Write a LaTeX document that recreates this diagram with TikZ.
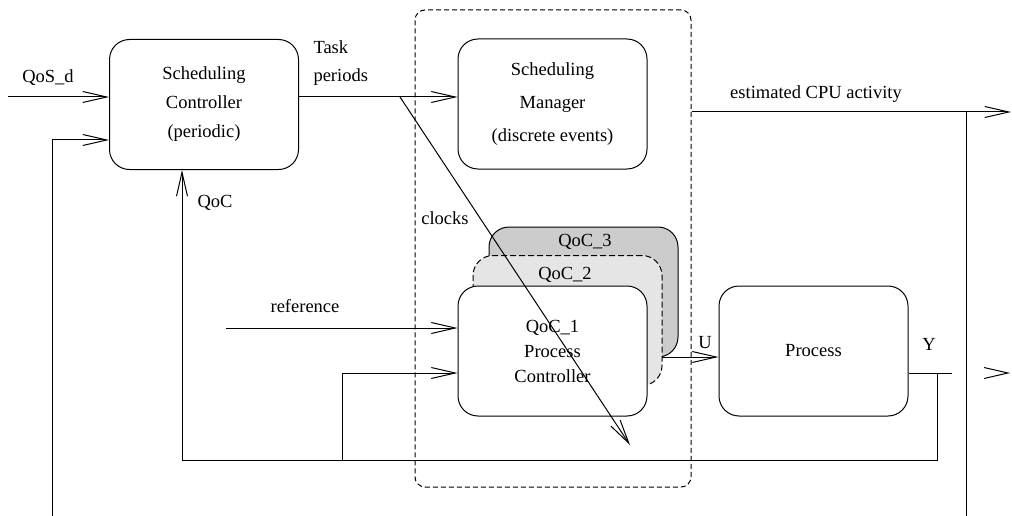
\documentclass[tikz,border=0pt]{standalone}
\usepackage{fontspec}
\setmainfont{Liberation Serif}
\usetikzlibrary{arrows.meta}

\begin{document}
\begin{tikzpicture}[x=1pt,y=-1pt,line width=1pt,font=\fontsize{18.5}{22}\selectfont,
  blk/.style={draw,rounded corners=20pt,minimum width=189pt,minimum height=130pt,inner sep=0pt,align=center},
  arr/.style={-{Straight Barb[length=24pt,width=11pt]}},
  lbl/.style={inner sep=0pt}]
        \useasboundingbox (0,0) rectangle (1012,516);
        \node[draw,dash pattern=on 5pt off 3pt,rounded corners=10pt,minimum width=276pt,minimum height=477pt] (cluster) at (553,248.5) {};
        \node[blk] (sctrl) at (204,104.5) {Scheduling\\[7pt]Controller\\[7pt](periodic)};
        \node[blk] (smgr) at (552.5,104) {Scheduling\\[11pt]Manager\\[11pt](discrete events)};
        \node[blk,fill=gray!40] (qoc3) at (583.5,292) {};
        \node[blk,fill=gray!20,dash pattern=on 6pt off 3pt] (qoc2) at (567.5,320.5) {};
        \node[blk,fill=white] (pctrl) at (552.5,351) {QoC\_1\\[3pt]Process\\[3pt]Controller};
        \node[blk] (proc) at (813.5,351) {Process};
        \node[lbl] (qoc3lbl) at (585,242) {QoC\_3};
        \node[lbl] (qoc2lbl) at (565,275) {QoC\_2};
        \node[lbl] (qoslbl) at (48,78) {QoS\_d};
        \node[lbl,align=left,anchor=west] (tasklbl) at (313,63) {Task\\[6pt]periods};
        \node[lbl] (qoclbl) at (215,203) {QoC};
        \node[lbl] (clklbl) at (445,218) {clocks};
        \node[lbl] (reflbl) at (305,306) {reference};
        \node[lbl] (cpulbl) at (816,94) {estimated CPU activity};
        \node[lbl] (ulbl) at (705,343) {U};
        \node[lbl] (ylbl) at (929,344) {Y};
        \coordinate (qosin) at (8,97);
        \coordinate (split) at (400,97);
        \coordinate (clk) at (630,445);
        \coordinate (cpuin) at (52,140);
        \coordinate (cpubot) at (52,516);
        \coordinate (cpuend) at (1011,112);
        \coordinate (cputap) at (966,112);
        \coordinate (cpudown) at (966,516);
        \coordinate (refin) at (226,328);
        \coordinate (fbin) at (342,373);
        \coordinate (fbtap) at (342,460);
        \coordinate (uout) at (662,357);
        \coordinate (ytap) at (937,373);
        \coordinate (yout) at (952,373);
        \coordinate (fbleft) at (182,460);
        \draw[arr] (qosin) -- (qosin -| sctrl.west);
        \draw[arr] (cpubot) -- (cpuin) -- (cpuin -| sctrl.west);
        \draw[arr] (split -| sctrl.east) -- (split -| smgr.west);
        \draw[arr] (split) -- (clk);
        \draw[arr] (cpuend -| cluster.east) -- (cpuend);
        \draw (cputap) -- (cpudown);
        \draw[arr] (refin) -- (refin -| pctrl.west);
        \draw[arr] (fbtap) -- (fbin) -- (fbin -| pctrl.west);
        \draw[arr] (uout) -- (uout -| proc.west);
        \draw (yout -| proc.east) -- (yout);
        \draw[arr] (ytap) |- (fbleft) -- (fbleft |- sctrl.south);
        \draw (984,367.5) -- (1008,373) -- (984,378.5);
      \end{tikzpicture}
\end{document}
